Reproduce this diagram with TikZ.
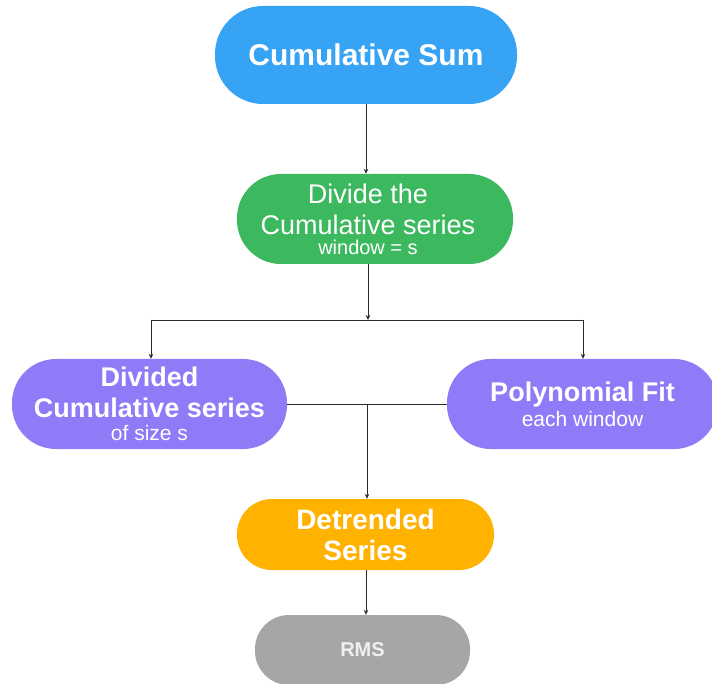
\documentclass[tikz,border=0pt]{standalone}
\usepackage{fontspec}
\setmainfont{Liberation Sans}
\usetikzlibrary{arrows.meta}
\definecolor{cblue}{HTML}{36A3F5}
\definecolor{cgreen}{HTML}{3CB95E}
\definecolor{cpurple}{HTML}{8F7BF7}
\definecolor{corange}{HTML}{FFB200}
\definecolor{cgrey}{HTML}{A6A6A6}
\definecolor{crmstext}{HTML}{F0F0F0}
\definecolor{cline}{HTML}{2B2B2B}
\begin{document}
\begin{tikzpicture}[x=1pt,y=-1pt,
  pill/.style={rectangle, draw=none, text=white, align=center, inner sep=0pt},
  conn/.style={draw=cline, line width=0.9pt},
  arr/.style={conn, -{Stealth[length=5pt,width=4.5pt]}}]
\useasboundingbox (0,0) rectangle (712,684);
\clip (0,0) rectangle (712,684);
\fill[white] (0,0) rectangle (712,684);

\node[pill, fill=cblue, minimum width=302pt, minimum height=98pt, rounded corners=48pt,
  font=\bfseries\fontsize{30}{32}\selectfont] (cs) at (366,55) {Cumulative Sum};

\node[pill, fill=cgreen, minimum width=276pt, minimum height=90pt, rounded corners=44pt] (div) at (375,219) {};
\node[pill, font=\fontsize{27}{31}\selectfont] (divt) at (368,219)
  {Divide the\\Cumulative series\\[-11pt]{\fontsize{20}{20}\selectfont window = s}};

\node[pill, fill=cpurple, minimum width=275pt, minimum height=90pt, rounded corners=44pt,
  font=\bfseries\fontsize{27}{31}\selectfont] (dc) at (149.5,404)
  {Divided\\Cumulative series\\[-8pt]{\mdseries\fontsize{21}{21}\selectfont of size s}};

\node[pill, fill=cpurple, minimum width=271pt, minimum height=90pt, rounded corners=44pt,
  font=\bfseries\fontsize{27}{31}\selectfont] (pf) at (582.5,404)
  {Polynomial Fit\\[-6pt]{\mdseries\fontsize{21}{21}\selectfont each window}};

\node[pill, fill=corange, minimum width=257pt, minimum height=71pt, rounded corners=35pt,
  font=\bfseries\fontsize{28}{31}\selectfont] (det) at (365.5,534.5)
  {Detrended\\Series};

\node[pill, fill=cgrey, text=crmstext, minimum width=215pt, minimum height=70pt, rounded corners=34pt,
  font=\bfseries\fontsize{20}{22}\selectfont] (rms) at (362.5,650) {RMS};

\coordinate (j1) at (368,320);
\coordinate (j2) at (367,404);
\coordinate (jl) at (151,320);
\coordinate (jr) at (583,320);

\draw[arr] (cs.south -| 366,0) -- (366,0 |- div.north);
\draw[arr] (div.south -| j1) -- (j1);
\draw[conn] (jl) -- (jr);
\draw[arr] (jl) -- (jl |- dc.north);
\draw[arr] (jr) -- (jr |- pf.north);
\draw[conn] (dc.east) -- (pf.west);
\draw[arr] (j2) -- (j2 |- det.north);
\draw[arr] (det.south -| 366,0) -- (366,0 |- rms.north);
\end{tikzpicture}
\end{document}
